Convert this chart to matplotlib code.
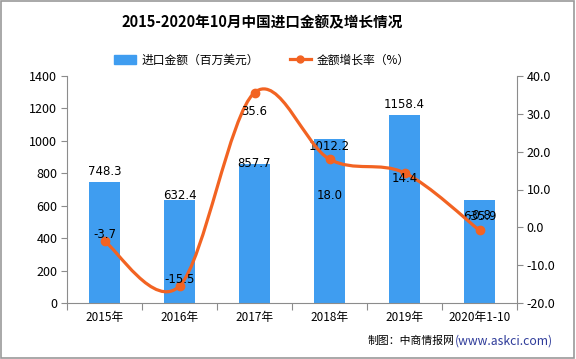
import matplotlib
matplotlib.use('Agg')
from matplotlib import pyplot as plt
from matplotlib.path import Path
from matplotlib.patches import PathPatch, Rectangle
from matplotlib.lines import Line2D
import numpy as np

plt.rcParams['font.family'] = ['Noto Sans CJK SC', 'DejaVu Sans']

YEARS = ['2015年', '2016年', '2017年', '2018年', '2019年', '2020年1-10']
IMPORTS = [748.3, 632.4, 857.7, 1012.2, 1158.4, 635.9]
GROWTH = [-3.7, -15.5, 35.6, 18.0, 14.4, -0.8]

# label offsets in pixels (the original places them a bit oddly)
BAR_OFFSETS = [10, 5, 0, -8, 11, -17]
LINE_OFFSETS = [7, 6, -19, -36, -6, 15]

BAR_COLOR = '#3f9df0'
LINE_COLOR = '#f26322'
AXIS_COLOR = '#8c8c8c'


def smooth_path(xs, ys):
    # Catmull-Rom style bezier through the points
    pts = np.column_stack([xs, ys]).astype(float)
    n = len(pts)
    verts = [pts[0]]
    codes = [Path.MOVETO]
    for i in range(n - 1):
        p0 = pts[max(i - 1, 0)]
        p1 = pts[i]
        p2 = pts[i + 1]
        p3 = pts[min(i + 2, n - 1)]
        c1 = p1 + (p2 - p0) / 6.0
        c2 = p2 - (p3 - p1) / 6.0
        verts += [c1, c2, p2]
        codes += [Path.CURVE4] * 3
    return Path(verts, codes)


def main():
    fig = plt.figure(figsize=(5.76, 3.59), dpi=100)
    ax = fig.add_axes([67 / 576, 1 - 303 / 359, 450 / 576, 227 / 359])
    ax2 = ax.twinx()

    x = np.arange(len(YEARS))
    bars = ax.bar(x, IMPORTS, width=0.41, color=BAR_COLOR, zorder=2)
    ax.set_xlim(-0.5, len(YEARS) - 0.5)
    ax.set_ylim(0, 1400)
    ax.set_yticks(np.arange(0, 1401, 200))
    ax.set_xticks(np.arange(-0.5, len(YEARS), 1.0))
    ax.set_xticklabels([])
    ax.set_xticks(x, minor=True)
    ax.set_xticklabels(YEARS, minor=True)
    ax.tick_params(axis='x', which='minor', length=0, labelsize=8.5, pad=6)
    ax.tick_params(axis='x', which='major', length=5, color=AXIS_COLOR)
    ax.tick_params(axis='y', length=4, color=AXIS_COLOR, labelsize=9, pad=3)

    for b, v, off in zip(bars, IMPORTS, BAR_OFFSETS):
        ax.annotate(f'{v:.1f}', (b.get_x() + b.get_width() / 2, v),
                    xytext=(0, off), textcoords='offset pixels',
                    ha='center', va='center', fontsize=8.5, family='DejaVu Sans', zorder=5)

    ax2.set_ylim(-20, 40)
    ax2.set_yticks(np.arange(-20, 41, 10))
    ax2.set_yticklabels([f'{v:.1f}' for v in np.arange(-20, 41, 10)])
    ax2.tick_params(axis='y', length=4, color=AXIS_COLOR, labelsize=9, pad=3)

    ax2.add_patch(PathPatch(smooth_path(x, GROWTH), fill=False,
                            edgecolor=LINE_COLOR, lw=2.3, zorder=3))
    ax2.plot(x, GROWTH, 'o', color=LINE_COLOR, ms=6, zorder=4)
    for xi, v, off in zip(x, GROWTH, LINE_OFFSETS):
        ax2.annotate(f'{v:.1f}', (xi, v), xytext=(0, off), textcoords='offset pixels',
                     ha='center', va='center', fontsize=8.5, family='DejaVu Sans', zorder=5)

    for a in (ax, ax2):
        a.spines['top'].set_visible(False)
        for s in ('left', 'right', 'bottom'):
            a.spines[s].set_color(AXIS_COLOR)
    ax.spines['right'].set_visible(False)
    ax2.spines['left'].set_visible(False)
    ax2.spines['bottom'].set_visible(False)

    fig.text(262 / 576, 1 - 22 / 359, '2015-2020年10月中国进口金额及增长情况',
             ha='center', va='center', fontsize=10.5, fontweight='bold')

    handles = [Rectangle((0, 0), 1, 1, color=BAR_COLOR),
               Line2D([], [], color=LINE_COLOR, lw=2.3, marker='o', ms=5)]
    fig.legend(handles, ['进口金额（百万美元）', '金额增长率（%）'],
               loc='center', bbox_to_anchor=(262 / 576, 1 - 60 / 359), ncol=2,
               frameon=False, fontsize=8.5, columnspacing=2.6, handlelength=1.85,
               handletextpad=0.45)

    fig.text(455 / 576, 1 - 341 / 359, '制图：中商情报网', ha='right', va='center', fontsize=7.8)
    fig.text(455 / 576, 1 - 341 / 359, '(www.askci.com)', ha='left', va='center',
             fontsize=8.8, color='#2f3c9a')

    fig.patches.append(Rectangle((0.001, 0.002), 0.996, 0.995, transform=fig.transFigure,
                                 fill=False, edgecolor='#999999', lw=1.2))

    fig.savefig('out.png', dpi=100)


if __name__ == '__main__':
    main()
